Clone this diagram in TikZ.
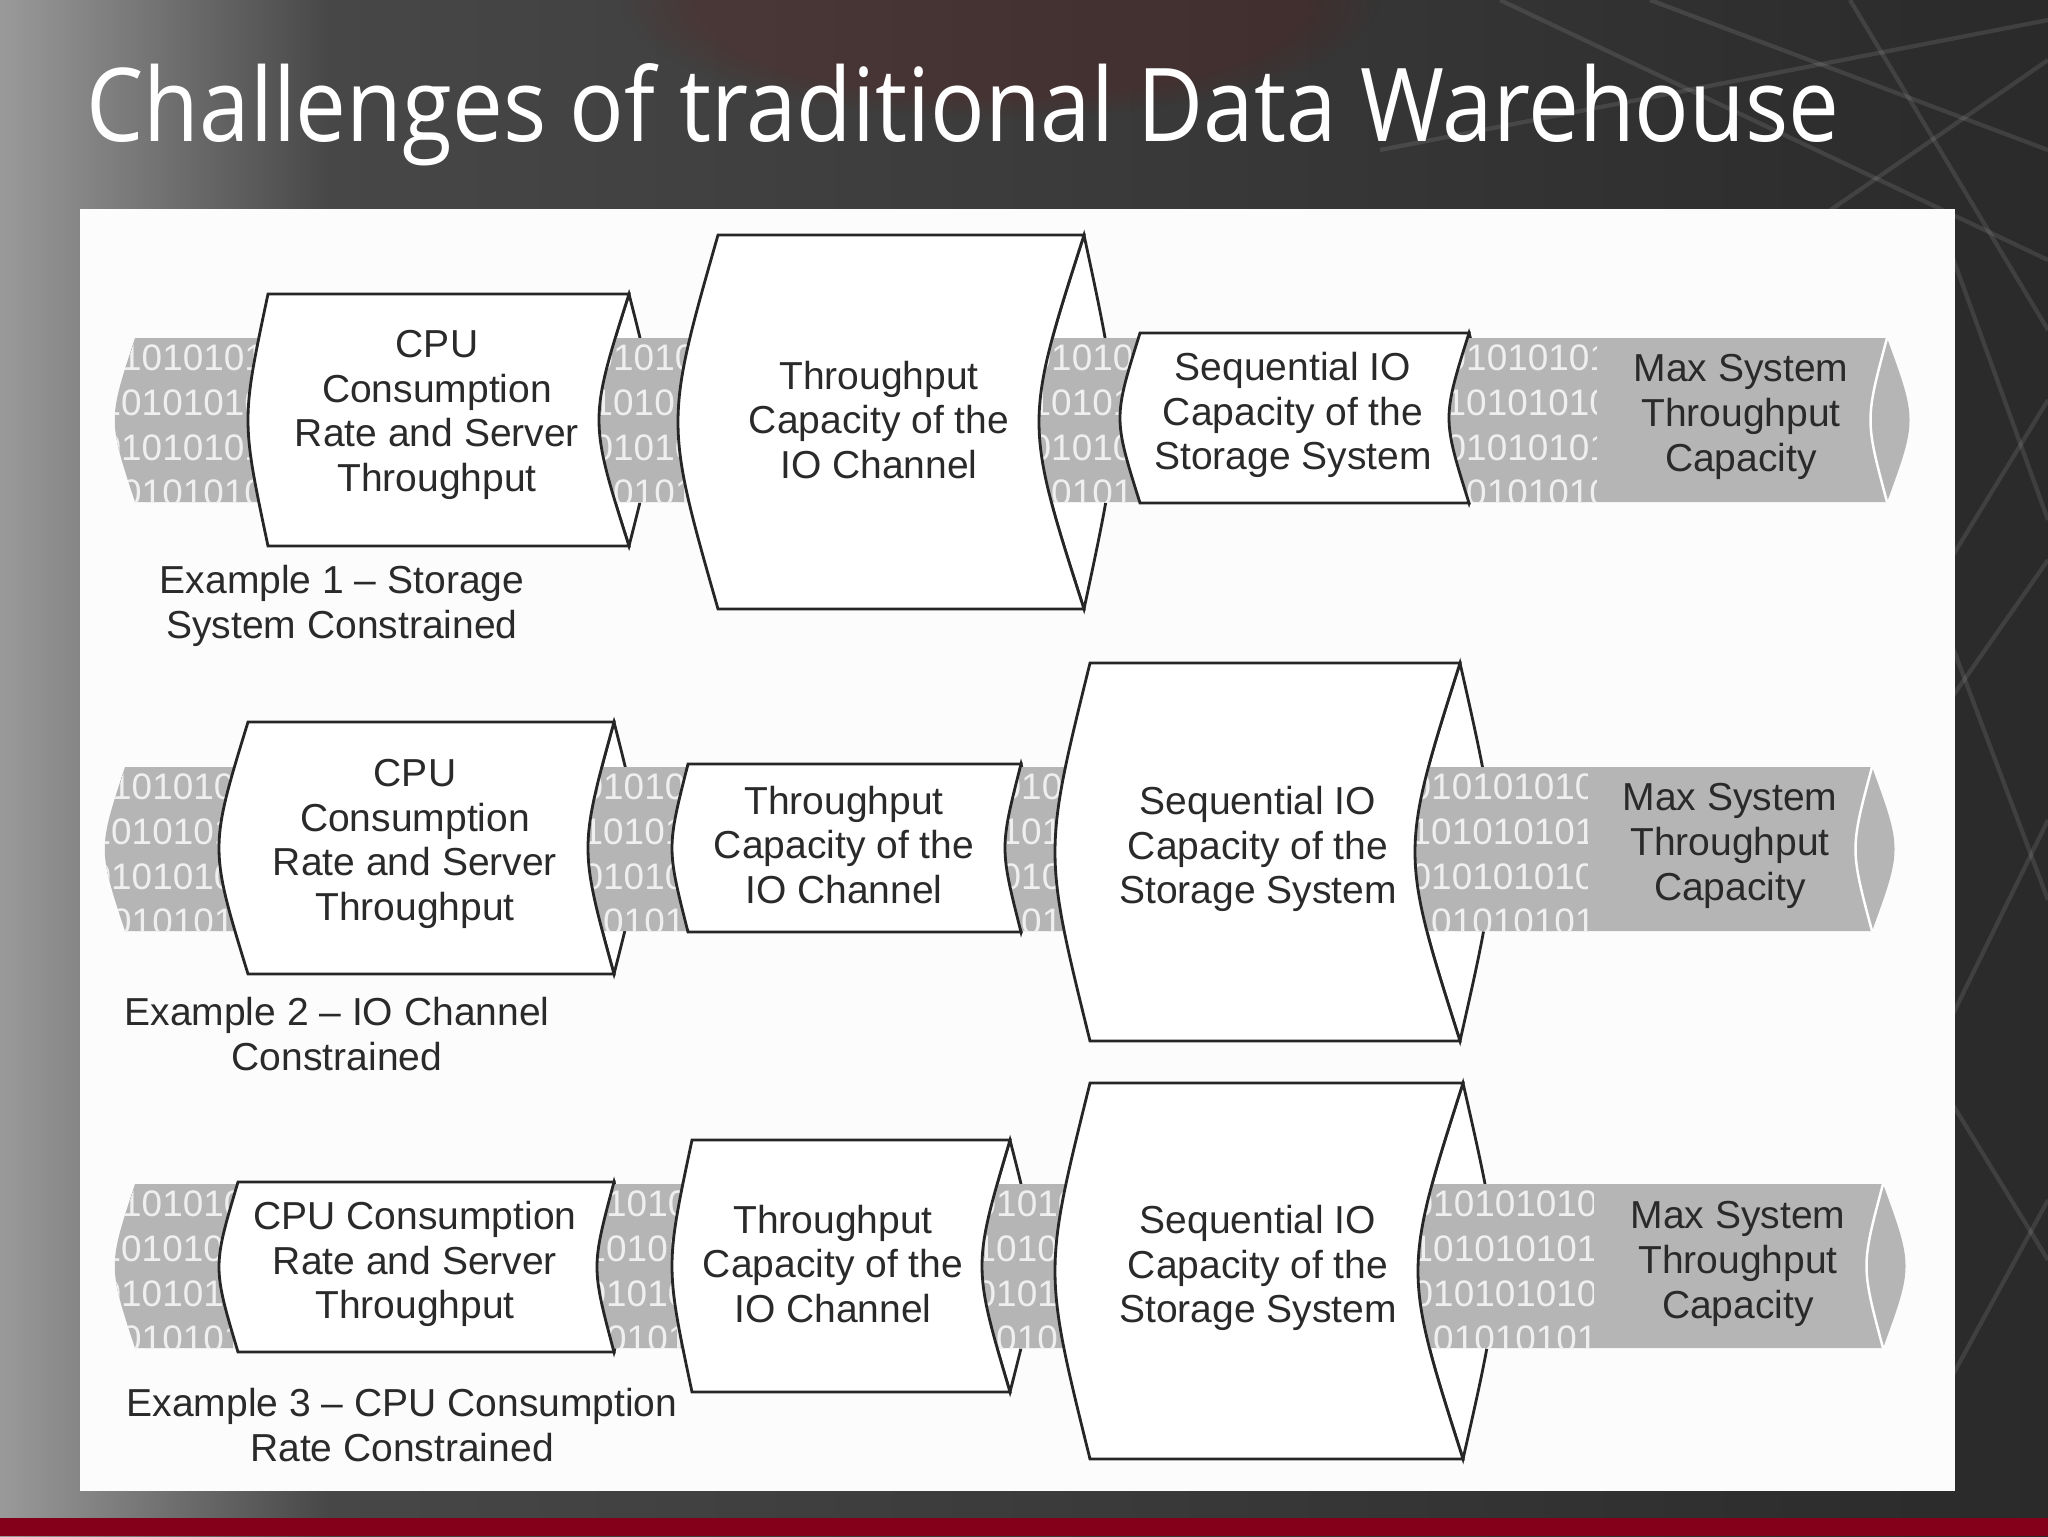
\documentclass[tikz,border=0pt]{standalone}
\usepackage{fontspec}
\setmainfont{Liberation Sans}
\newfontfamily\titlefont{Open Sans}
\usetikzlibrary{fadings}

\definecolor{pipegray}{HTML}{B5B5B5}
\definecolor{bitwhite}{HTML}{EFEFEF}
\definecolor{inkgray}{HTML}{2A2A2A}
\definecolor{slidelight}{HTML}{9A9A9A}
\definecolor{slidemid}{HTML}{474747}
\definecolor{slidedark}{HTML}{2A2A2A}
\definecolor{bandred}{HTML}{84001A}

% right end of a drum: inner and outer arc
\newcommand{\drumlens}[5]{%
  \path[drum] (#1,{#2-#3}) .. controls ({#1-4/3*#4},#2) .. (#1,{#2+#3})
    .. controls ({#1+4/3*#5},#2) .. (#1,{#2-#3}) -- cycle;}
% body of a drum
\newcommand{\drumbody}[6]{%
  \path[drum] (#1,{#3-#4}) -- (#2,{#3-#4}) .. controls ({#2-4/3*#6},#3) .. (#2,{#3+#4})
    -- (#1,{#3+#4}) .. controls ({#1-4/3*#5},#3) .. (#1,{#3-#4}) -- cycle;}
% grey data pipe, bits shown in the gaps only
\newcommand{\datapipe}[5]{%
  \path[fill=pipegray] (#1,{#3-#4}) -- (#2,{#3-#4}) .. controls ({#2+30},#3) .. (#2,{#3+#4})
    -- (#1,{#3+#4}) .. controls ({#1-27},#3) .. (#1,{#3-#4}) -- cycle;
  \begin{scope}
    \clip (#1,{#3-#4}) -- (#2,{#3-#4}) -- (#2,{#3+#4})
      -- (#1,{#3+#4}) .. controls ({#1-27},#3) .. (#1,{#3-#4}) -- cycle;
    \foreach \xa/\xb/\nb in {#5} {
      \begin{scope}
        \clip (\xa,{#3-#4}) rectangle (\xb,{#3+#4});
        \foreach \dy/\r in {-62/0,-17/1,28/0,73/1}
          \node[bits] (bits-#3-\xa-\dy) at (\xa,{#3+\dy})
            {\foreach \k in {1,...,\nb}{\ifodd\numexpr\k+\r\relax 0\else 1\fi}};
      \end{scope}}
  \end{scope}
  \draw[white, line width=0.7pt] (#2,{#3-#4}) .. controls ({#2-22},#3) .. (#2,{#3+#4});}

\begin{document}
\begin{tikzpicture}[x=0.1mm, y=-0.1mm,
  drum/.style={fill=white, draw=black!85, line width=0.8pt, line join=miter},
  label/.style={font=\fontsize{11.1}{12.7}\selectfont, text=inkgray, align=center, inner sep=0pt},
  bits/.style={font=\fontsize{10.5}{10.5}\selectfont, text=bitwhite, anchor=west, inner sep=0pt},
  headline/.style={font=\titlefont\fontsize{29}{32}\selectfont, text=white, inner sep=0pt, anchor=base west}]
  \useasboundingbox (0,0) rectangle (2048,1536);

  % slide background
  \shade[left color=slidelight, right color=slidemid] (0,0) rectangle (330,1536);
  \shade[left color=slidemid, right color=slidedark] (330,0) rectangle (2048,1536);
  \fill[red!50!black, opacity=0.14, path fading=circle with fuzzy edge 20 percent] (1000,0) ellipse (380 and 120);
  \begin{scope}[white, opacity=0.1, line width=1.2pt]
    \draw (1500,0) -- (2048,260);
    \draw (1650,0) -- (2048,150);
    \draw (1380,150) -- (2048,20);
    \draw (1700,300) -- (2048,60);
    \draw (1850,0) -- (2048,330);
    \draw (1950,250) -- (2048,520);
    \draw (1950,560) -- (2048,400);
    \draw (1950,700) -- (2048,560);
    \draw (1950,640) -- (2048,900);
    \draw (1950,1020) -- (2048,820);
    \draw (1950,1100) -- (2048,1260);
    \draw (1950,1380) -- (2048,1200);
  \end{scope}
  \fill[bandred] (0,1518) rectangle (2048,1536);
  \fill[white!99!black] (80,209) rectangle (1955,1491);

  \node[headline] (head) at (86,141) {\scalebox{0.89}[1]{Challenges of traditional Data Warehouse}};

  % example 1
  \drumlens{629}{420}{126}{30}{24}
  \drumlens{1084}{422}{187}{45}{30}
  \drumlens{1469}{418}{85}{20}{18}
  \datapipe{135}{1887}{420}{82}{100/262/9, 592/700/6, 1030/1130/6, 1445/1596/8}
  \drumbody{268}{629}{420}{126}{20}{30}
  \drumbody{718}{1084}{422}{187}{40}{45}
  \drumbody{1140}{1469}{418}{85}{20}{20}
  \node[label] (cpuA) at (437,415) {CPU\\Consumption\\Rate and Server\\Throughput};
  \node[label] (chanA) at (879,420) {Throughput\\Capacity of the\\IO Channel};
  \node[label] (storA) at (1293,415) {Sequential IO\\Capacity of the\\Storage System};
  \node[label] (maxA) at (1741,417) {Max System\\Throughput\\Capacity};
  \node[label] (exA) at (342,606) {Example 1 \textendash{} Storage\\System Constrained};

  % example 2
  \drumlens{614}{848}{126}{26}{24}
  \drumlens{1021}{848}{84}{16}{16}
  \drumlens{1460}{852}{189}{45}{32}
  \datapipe{125}{1872}{849}{82}{90/245/8, 582/682/6, 1000/1078/5, 1410/1587/9}
  \drumbody{248}{614}{848}{126}{29}{26}
  \drumbody{688}{1021}{848}{84}{16}{16}
  \drumbody{1090}{1460}{852}{189}{35}{45}
  \node[label] (cpuB) at (415,844) {CPU\\Consumption\\Rate and Server\\Throughput};
  \node[label] (chanB) at (844,845) {Throughput\\Capacity of the\\IO Channel};
  \node[label] (storB) at (1258,849) {Sequential IO\\Capacity of the\\Storage System};
  \node[label] (maxB) at (1730,846) {Max System\\Throughput\\Capacity};
  \node[label] (exB) at (337,1034) {Example 2 \textendash{} IO Channel\\Constrained};

  % example 3
  \drumlens{614}{1267}{85}{17}{16}
  \drumlens{1010}{1266}{126}{28}{24}
  \drumlens{1463}{1271}{188}{45}{32}
  \datapipe{135}{1883}{1266}{82}{100/235/7, 585/690/6, 975/1080/6, 1412/1593/9}
  \drumbody{238}{614}{1267}{85}{19}{17}
  \drumbody{692}{1010}{1266}{126}{20}{28}
  \drumbody{1090}{1463}{1271}{188}{35}{45}
  \node[label] (cpuC) at (415,1264) {CPU Consumption\\Rate and Server\\Throughput};
  \node[label] (chanC) at (833,1264) {Throughput\\Capacity of the\\IO Channel};
  \node[label] (storC) at (1258,1268) {Sequential IO\\Capacity of the\\Storage System};
  \node[label] (maxC) at (1738,1264) {Max System\\Throughput\\Capacity};
  \node[label] (exC) at (402,1425) {Example 3 \textendash{} CPU Consumption\\Rate Constrained};
\end{tikzpicture}
\end{document}
